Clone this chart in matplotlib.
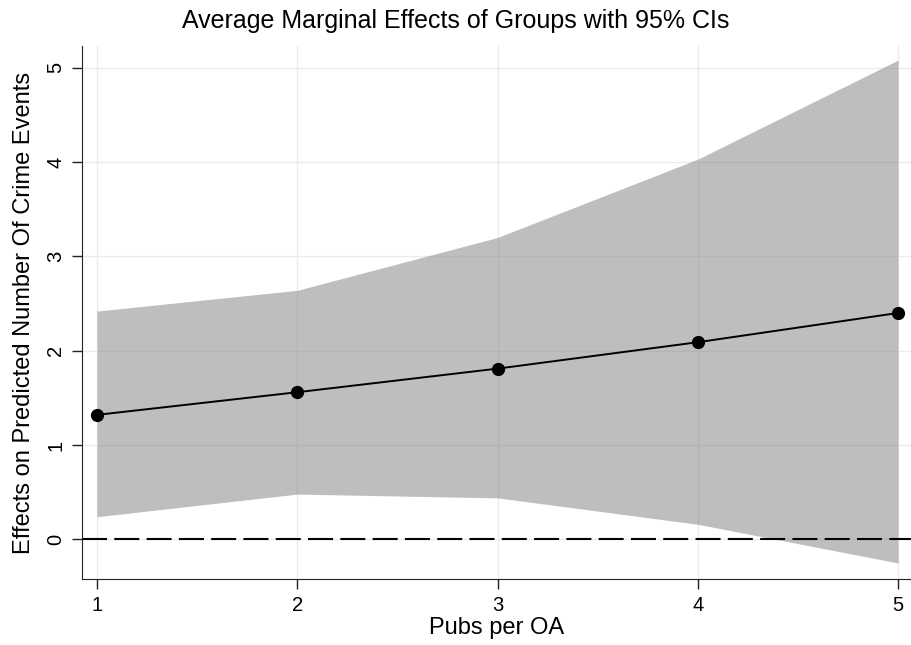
import numpy as np
import matplotlib.pyplot as plt

plt.rcParams['font.family'] = ['Liberation Sans', 'DejaVu Sans']

# Pubs per OA and estimated marginal effects with 95% CI bounds
pubs = [1, 2, 3, 4, 5]
effect = [1.32, 1.56, 1.81, 2.09, 2.40]
ci_upper = [2.42, 2.64, 3.20, 4.03, 5.08]
ci_lower = [0.24, 0.48, 0.44, 0.16, -0.25]

fig = plt.figure(figsize=(9.12, 6.45), dpi=100)
ax = fig.add_axes([82 / 912, 1 - 579 / 645, 830 / 912, 533 / 645])

ax.set_axisbelow(True)
ax.grid(True, color='#ebebeb', linewidth=1.0)
ax.fill_between(pubs, ci_lower, ci_upper, color='#7f7f7f', alpha=0.5,
                linewidth=0, zorder=1)
ax.axhline(0, color='black', linestyle=(0, (12, 3.5)), linewidth=1.5, zorder=2)
ax.plot(pubs, effect, color='black', linewidth=1.4, marker='o',
        markersize=8.5, zorder=3)

ax.set_xlim(0.925, 5.07)
ax.set_ylim(-0.42, 5.23)
ax.set_xticks(pubs)
ax.set_yticks([0, 1, 2, 3, 4, 5])
for lab in ax.get_yticklabels():
    lab.set_rotation(90)
    lab.set_va('center')
ax.tick_params(labelsize=14.5, length=7, width=1, color='#222222', pad=5)
ax.spines['top'].set_visible(False)
ax.spines['right'].set_visible(False)
for s in ('left', 'bottom'):
    ax.spines[s].set_color('#222222')

ax.set_xlabel('Pubs per OA', fontsize=17, labelpad=2)
ax.set_ylabel('Effects on Predicted Number Of Crime Events', fontsize=17,
              labelpad=8)
fig.text(0.5, 1 - 21 / 645, 'Average Marginal Effects of Groups with 95% CIs',
         ha='center', va='center', fontsize=18)

fig.savefig('out.png', dpi=100)
